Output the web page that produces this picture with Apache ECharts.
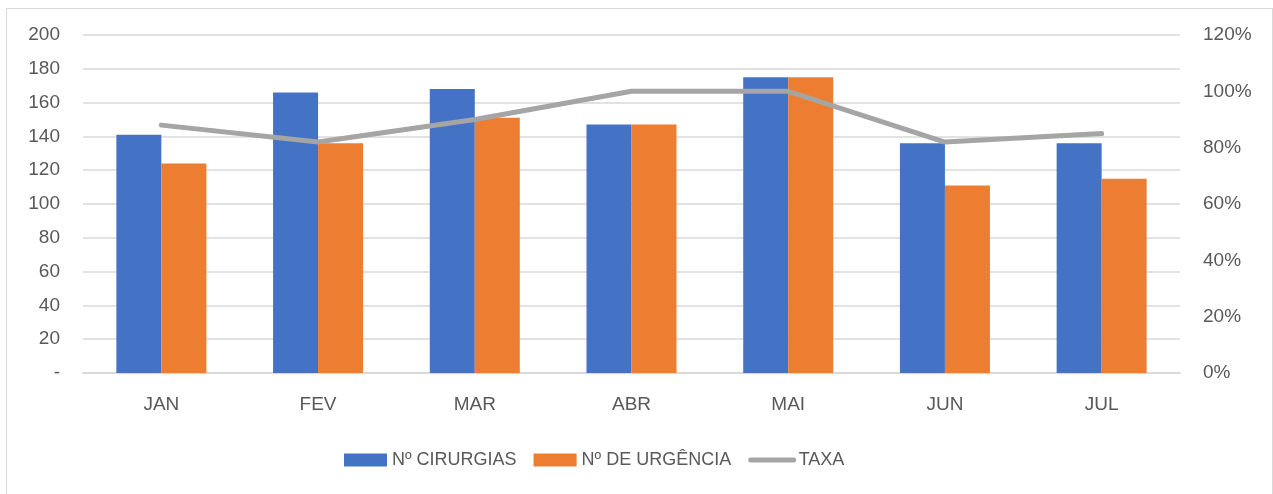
<!DOCTYPE html>
<html>
<head>
<meta charset="utf-8">
<script src="https://cdn.jsdelivr.net/npm/echarts@6/dist/echarts.min.js"></script>
<style>
  html, body { margin: 0; padding: 0; background: #fff; }
  #frame { position: absolute; left: 6px; top: 8px; width: 1265px; height: 500px; border: 1px solid #d9d9d9; }
  #chart { position: absolute; left: 0; top: 0; width: 1273px; height: 494px; }
</style>
</head>
<body>
<div id="frame"></div>
<div id="chart"></div>
<script>
var meses = ['JAN', 'FEV', 'MAR', 'ABR', 'MAI', 'JUN', 'JUL'];
var cirurgias = [141, 166, 168, 147, 175, 136, 136];
var urgencia = [124, 136, 151, 147, 175, 111, 115];
var taxa = [88, 82, 90, 100, 100, 82, 85];   // em %

(function () {
  var myChart = echarts.init(document.getElementById('chart'));
  var labelStyle = { color: '#595959', fontSize: 19, fontFamily: 'Liberation Sans' };
  var option = {
    animation: false,
    grid: { left: 83, right: 93, top: 35, bottom: 121 },
    legend: {
      bottom: 20,
      left: 339,
      itemWidth: 43,
      itemHeight: 13,
      itemGap: 17,
      textStyle: { color: '#595959', fontSize: 18, fontFamily: 'Liberation Sans' },
      data: [
        { name: 'Nº CIRURGIAS', icon: 'rect' },
        { name: 'Nº DE URGÊNCIA', icon: 'rect' },
        { name: 'TAXA', itemStyle: { opacity: 0 }, lineStyle: { width: 5, cap: 'round' } }
      ]
    },
    xAxis: {
      type: 'category',
      data: meses,
      axisTick: { show: false },
      axisLine: { lineStyle: { color: '#d9d9d9', width: 2 } },
      axisLabel: Object.assign({ margin: 22 }, labelStyle)
    },
    yAxis: [
      {
        type: 'value',
        min: 0, max: 200, interval: 20,
        axisLine: { show: false },
        axisTick: { show: false },
        splitLine: { lineStyle: { color: '#d9d9d9', width: 1.5 } },
        axisLabel: Object.assign({
          margin: 23,
          formatter: function (v) { return v === 0 ? '-' : v; }
        }, labelStyle)
      },
      {
        type: 'value',
        min: 0, max: 120, interval: 20,
        axisLine: { show: false },
        axisTick: { show: false },
        splitLine: { show: false },
        axisLabel: Object.assign({ margin: 23, formatter: '{value}%' }, labelStyle)
      }
    ],
    series: [
      {
        name: 'Nº CIRURGIAS',
        type: 'bar',
        data: cirurgias,
        barWidth: 45,
        barGap: '0%',
        itemStyle: { color: '#4472c4' }
      },
      {
        name: 'Nº DE URGÊNCIA',
        type: 'bar',
        data: urgencia,
        barWidth: 45,
        itemStyle: { color: '#ed7d31' }
      },
      {
        name: 'TAXA',
        type: 'line',
        yAxisIndex: 1,
        data: taxa,
        symbol: 'none',
        itemStyle: { color: '#a5a5a5' },
        lineStyle: { color: '#a5a5a5', width: 5, cap: 'round' }
      }
    ]
  };
  myChart.setOption(option);
})();
</script>
</body>
</html>
